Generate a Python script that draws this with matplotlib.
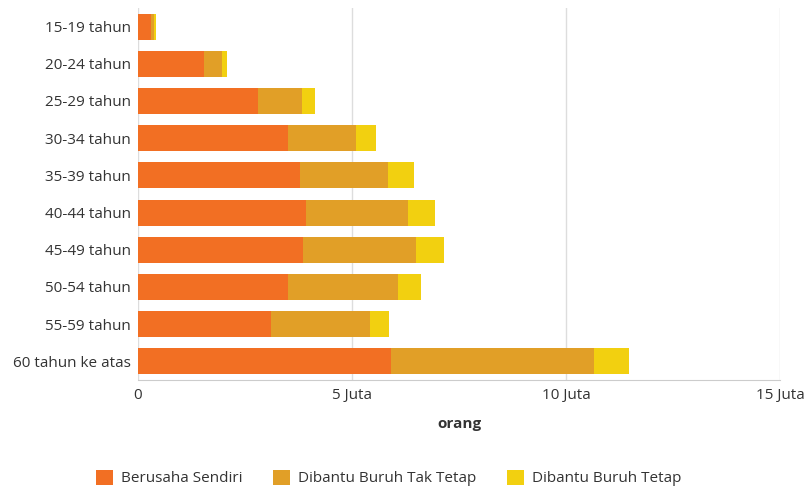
import matplotlib
matplotlib.use("Agg")
import matplotlib.pyplot as plt
import numpy as np

plt.rcParams['font.family'] = ['Open Sans', 'DejaVu Sans']

categories = ["15-19 tahun", "20-24 tahun", "25-29 tahun", "30-34 tahun", "35-39 tahun",
              "40-44 tahun", "45-49 tahun", "50-54 tahun", "55-59 tahun", "60 tahun ke atas"]
berusaha_sendiri = [0.30, 1.54, 2.81, 3.51, 3.78, 3.92, 3.86, 3.50, 3.11, 5.91]
buruh_tak_tetap = [0.08, 0.43, 1.02, 1.59, 2.05, 2.39, 2.64, 2.58, 2.32, 4.74]
buruh_tetap = [0.03, 0.10, 0.30, 0.46, 0.61, 0.64, 0.64, 0.54, 0.44, 0.82]
series_names = ["Berusaha Sendiri", "Dibantu Buruh Tak Tetap", "Dibantu Buruh Tetap"]
x_ticks = [0, 5, 10, 15]
x_ticklabels = ["0", "5 Juta", "10 Juta", "15 Juta"]

colors = ["#F26F23", "#E19F27", "#F2D010"]

fig = plt.figure(figsize=(8.06, 4.90), dpi=100)
ax = fig.add_axes([138/806, 1 - 380/490, (780 - 138)/806, (380 - 8)/490])

y = np.arange(len(categories))
left = np.zeros(len(categories))
handles = []
for vals, c, name in zip([berusaha_sendiri, buruh_tak_tetap, buruh_tetap], colors, series_names):
    b = ax.barh(y, vals, left=left, height=0.7, color=c, label=name, zorder=3)
    left += np.array(vals)
    handles.append(b)

ax.set_ylim(len(categories) - 0.5, -0.5)
ax.set_xlim(0, 15)
ax.set_yticks(y)
ax.set_yticklabels(categories, fontsize=11, color="#333333")
ax.set_xticks(x_ticks)
ax.set_xticklabels(x_ticklabels, fontsize=11, color="#333333")
ax.tick_params(axis='both', length=0, pad=6)
ax.tick_params(axis='y', pad=5)
ax.grid(axis='x', color="#DDDDDD", linewidth=1, zorder=0)
for s in ["top", "right", "left"]:
    ax.spines[s].set_visible(False)
ax.spines["bottom"].set_color("#CCCCCC")
ax.set_xlabel("orang", fontsize=11, fontweight="bold", color="#333333", labelpad=10)

leg = fig.legend(handles, series_names, loc="center", bbox_to_anchor=(0.482, 1 - 478/490),
                 ncol=3, frameon=False, fontsize=11, handlelength=1.15, handleheight=1.15,
                 columnspacing=2.0, handletextpad=0.5, labelcolor="#333333")

fig.savefig("out.png", dpi=100)
